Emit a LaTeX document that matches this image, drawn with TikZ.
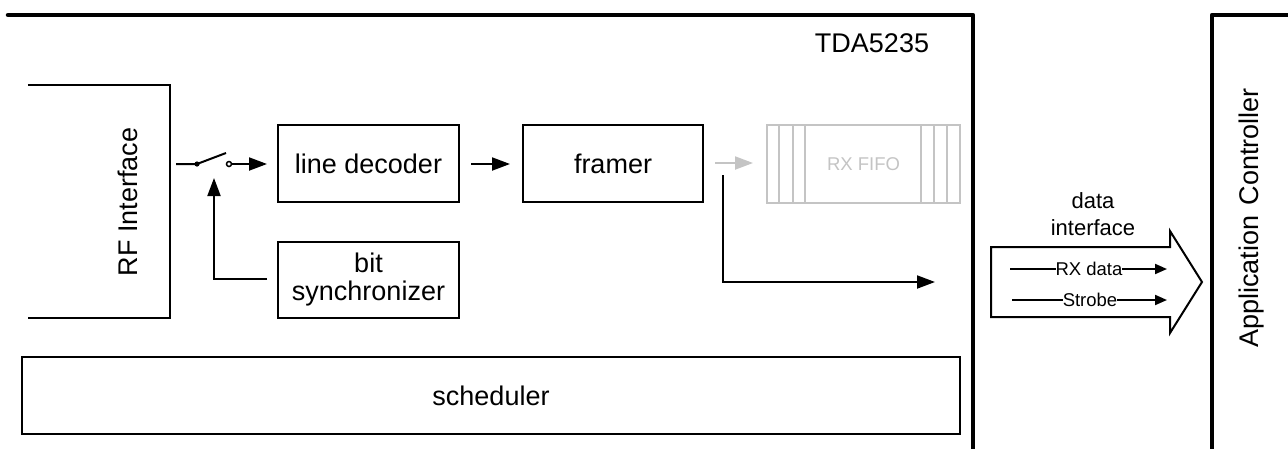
\documentclass[tikz,border=0pt]{standalone}
\usepackage{fontspec}
\setmainfont{Liberation Sans}
\usetikzlibrary{arrows.meta}
\definecolor{fifogray}{HTML}{C4C4C4}
\tikzset{
  blk/.style={draw=black, line width=2pt, rectangle, inner sep=0pt, font=\fontsize{27}{30}\selectfont, align=center},
  frame/.style={draw=black, line width=4.5pt, line join=round, line cap=round},
  conn/.style={draw=black, line width=2pt, -{Triangle[length=18pt,width=13pt]}},
  smallconn/.style={draw=black, line width=2pt, -{Triangle[length=12pt,width=10pt]}},
  lbl/.style={inner sep=0pt, font=\fontsize{27}{30}\selectfont},
  smalllbl/.style={inner sep=0pt, font=\fontsize{18.5}{20}\selectfont},
}
\begin{document}
\begin{tikzpicture}[x=1pt,y=-1pt]
\useasboundingbox (0,0) rectangle (1288,448);
\fill[white] (0,0) rectangle (1288,448);

% outer frames
\draw[frame] (8,15) -- (973,15) -- (973,455);
\draw[frame] (1212,455) -- (1212,15) -- (1295,15);
\node[lbl] (tda) at (872,43) {TDA5235};
\node[lbl, rotate=90] (app) at (1252,218) {Application\hspace{3pt} Controller};

% RF interface (open on the left)
\node[minimum width=142pt, minimum height=233pt, inner sep=0pt] (rf) at (99,201.5) {};
\draw[line width=2pt] (rf.north west) -- (rf.north east) -- (rf.south east) -- (rf.south west);
\node[lbl, rotate=90] (rflbl) at (128,202) {RF Interface};

% blocks
\node[blk, minimum width=181pt, minimum height=77pt] (ld) at (368.5,163.5) {line decoder};
\node[blk, minimum width=181pt, minimum height=76pt] (bs) at (368.5,280) {bit\\[-2pt]synchronizer};
\node[blk, minimum width=180pt, minimum height=77pt] (fr) at (613,163.5) {framer};
\node[blk, draw=fifogray, text=fifogray, minimum width=193pt, minimum height=78pt, font=\fontsize{18.5}{20}\selectfont] (fifo) at (863.5,164) {RX FIFO};
\foreach \xx in {779.3,792.5,805.3,920.7,934,946.7}
  \draw[fifogray, line width=2pt] (\xx,0 |- fifo.north) -- (\xx,0 |- fifo.south);
\node[blk, minimum width=938pt, minimum height=77pt] (sch) at (491,395.5) {scheduler};

% switch
\coordinate (sw0) at (176,164);
\coordinate (swa) at (197,164);
\coordinate (swl) at (226,153);
\coordinate (swb) at (229,164);
\coordinate (swc) at (231.5,164);
\draw[line width=2pt] (sw0) -- (swa) -- (swl);
\fill (swa) circle (2.6pt);
\draw[line width=1.5pt, fill=white] (swb) circle (2.5pt);
\coordinate (ldin) at (267,164);
\draw[conn] (swc) -- (ldin);

% bit synchronizer feedback
\coordinate (bsout) at (267,279);
\coordinate (swup) at (214,178);
\draw[conn] (bsout) -| (swup);

% line decoder -> framer
\coordinate (a1) at (471,164);
\coordinate (a2) at (510,164);
\draw[conn] (a1) -- (a2);

% framer -> fifo (gray)
\coordinate (g1) at (715,163);
\coordinate (g2) at (753,163);
\draw[conn, draw=fifogray, fill=fifogray, -{Triangle[length=18pt,width=13pt,fill=fifogray]}] (g1) -- (g2);

% bypass to data interface
\coordinate (b1) at (723,175);
\coordinate (b2) at (935,282);
\draw[conn] (b1) |- (b2);

% data interface big arrow
\draw[line width=2pt, line join=miter] (991,247) -- (1170,247) -- (1170,231) -- (1202,282) -- (1170,333) -- (1170,317) -- (991,317) -- cycle;
\node[inner sep=0pt, align=center, font=\fontsize{22}{27}\selectfont] (di) at (1093,214) {data\\interface};

\coordinate (r1) at (1010,269);
\coordinate (r2) at (1167,269);
\draw[smallconn] (r1) -- (r2);
\node[smalllbl, fill=white] (rxd) at (1089,269) {RX data};
\coordinate (s1) at (1012,300);
\coordinate (s2) at (1167,300);
\draw[smallconn] (s1) -- (s2);
\node[smalllbl, fill=white] (stb) at (1090,300) {Strobe};
\end{tikzpicture}
\end{document}
